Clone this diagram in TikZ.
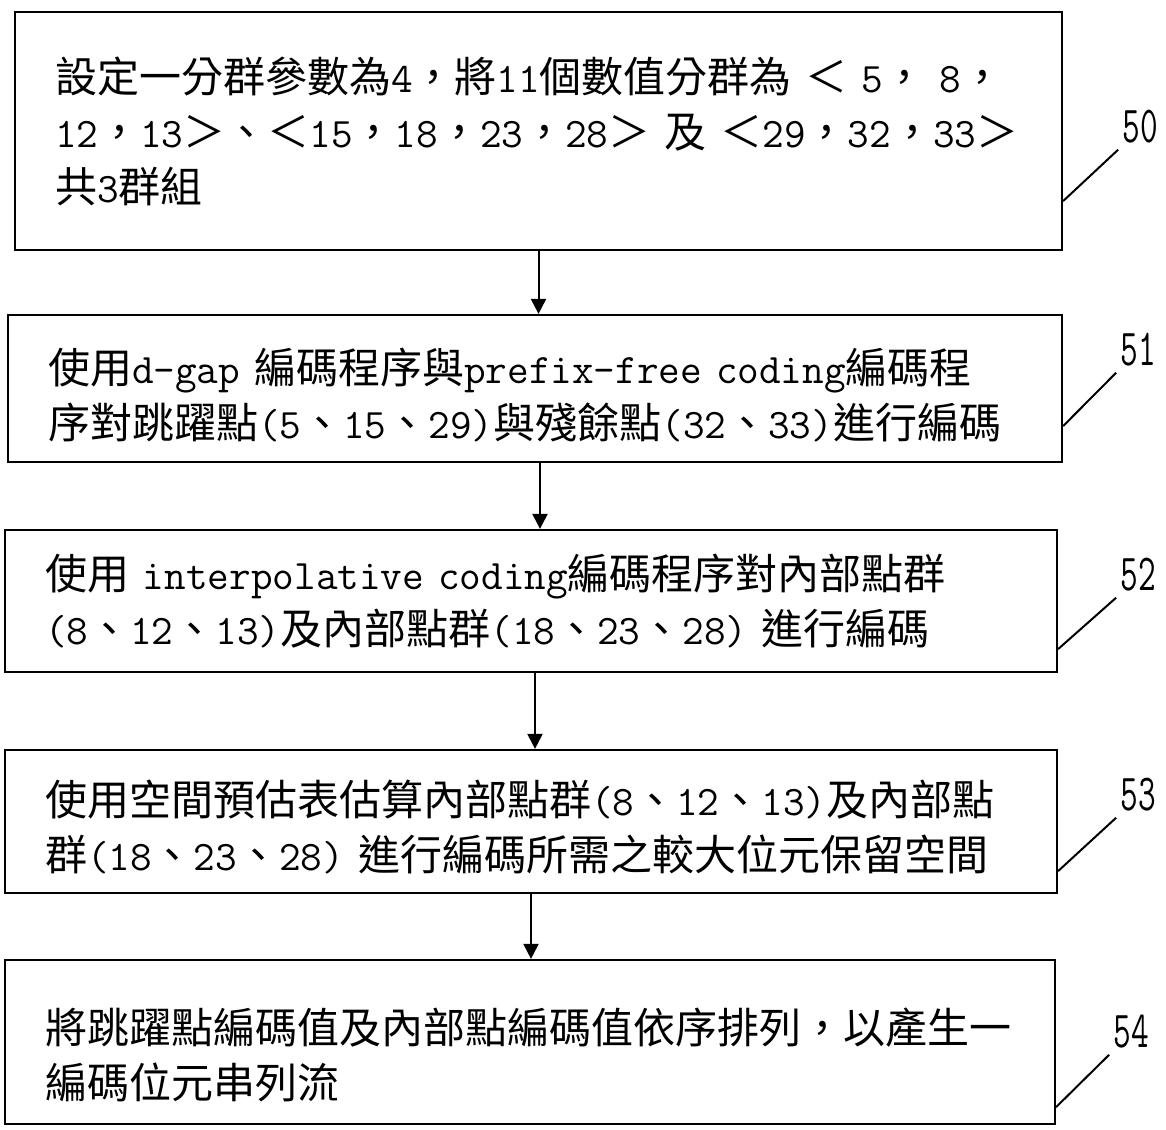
\documentclass[tikz,border=0pt]{standalone}
\usepackage{fontspec}
\usepackage{graphicx}
\setmainfont{Noto Sans CJK TC}
\usetikzlibrary{arrows.meta}
\newcommand\lt[1]{{\ttfamily\addfontfeatures{FakeBold=1.5}\relax#1}}
\newcommand\lbltext[1]{\scalebox{0.66}[1]{\ttfamily\addfontfeatures{FakeBold=1.2}\relax#1}}
\begin{document}
\begin{tikzpicture}[x=1pt,y=-1pt,
  box/.style={draw,line width=2.2pt,rectangle,inner xsep=0pt,inner ysep=0pt,align=left,
    font=\fontsize{42}{55}\selectfont},
  arr/.style={line width=2pt,-{Triangle[width=15pt,length=15pt]}},
  lead/.style={line width=2pt},
  lbl/.style={font=\fontsize{52}{52}\selectfont,inner sep=0pt}]
\useasboundingbox (0,0) rectangle (1166,1129);

\node[box,minimum width=1047pt,minimum height=238pt,text width=967pt] (b50) at (538.5,131)
 {\mbox{設定一分群參數為\lt{4}，將\lt{11}個數值分群為\lt{ }＜\lt{ 5}，\lt{ 8}，}\\
  \mbox{\lt{12}，\lt{13}＞、＜\lt{15}，\lt{18}，\lt{23}，\lt{28}＞\lt{ }及\lt{ }＜\lt{29}，\lt{32}，\lt{33}＞}\\
  \mbox{共\lt{3}群組}};

\node[box,minimum width=1054pt,minimum height=147pt,text width=974pt] (b51) at (535,388.5)
 {\mbox{\rule{0pt}{49pt}使用\lt{d-gap }編碼程序與\lt{prefix-free coding}編碼程}\\
  \mbox{序對跳躍點\lt{(5}、\lt{15}、\lt{29)}與殘餘點\lt{(32}、\lt{33)}進行編碼}};

\node[box,minimum width=1052pt,minimum height=142pt,text width=972pt] (b52) at (531,601)
 {\mbox{使用\lt{ interpolative coding}編碼程序對內部點群}\\
  \mbox{\lt{(8}、\lt{12}、\lt{13)}及內部點群\lt{(18}、\lt{23}、\lt{28) }進行編碼}};

\node[box,minimum width=1052pt,minimum height=143pt,text width=972pt] (b53) at (531,821.5)
 {\mbox{\rule{0pt}{47pt}使用空間預估表估算內部點群\lt{(8}、\lt{12}、\lt{13)}及內部點}\\
  \mbox{群\lt{(18}、\lt{23}、\lt{28) }進行編碼所需之較大位元保留空間}};

\node[box,minimum width=1050pt,minimum height=164pt,text width=970pt] (b54) at (530,1042)
 {\mbox{\rule{0pt}{61pt}將跳躍點編碼值及內部點編碼值依序排列，以產生一}\\
  \mbox{編碼位元串列流}};

\draw[arr] (b50.south) -- (b50.south |- b51.north);
\draw[arr] ([xshift=5pt]b51.south) -- ([xshift=5pt]b51.south |- b52.north);
\draw[arr] ([xshift=4pt]b52.south) -- ([xshift=4pt]b52.south |- b53.north);
\draw[arr] (b53.south) -- (b53.south |- b54.north);

\node[lbl] (l50) at (1140,127) {\lbltext{50}};
\node[lbl] (l51) at (1138,350) {\lbltext{51}};
\node[lbl] (l52) at (1138,575) {\lbltext{52}};
\node[lbl] (l53) at (1138,795) {\lbltext{53}};
\node[lbl] (l54) at (1131,1032) {\lbltext{54}};

\draw[lead] ([yshift=50pt]b50.south east) -- ([xshift=-4pt,yshift=-6pt]l50.south west);
\draw[lead] ([yshift=37pt]b51.south east) -- ([xshift=-4pt,yshift=-6pt]l51.south west);
\draw[lead] ([yshift=24pt]b52.south east) -- ([xshift=-4pt,yshift=-6pt]l52.south west);
\draw[lead] ([yshift=23pt]b53.south east) -- ([xshift=-4pt,yshift=-6pt]l53.south west);
\draw[lead] ([yshift=18pt]b54.south east) -- ([xshift=-4pt,yshift=-6pt]l54.south west);
\end{tikzpicture}
\end{document}
